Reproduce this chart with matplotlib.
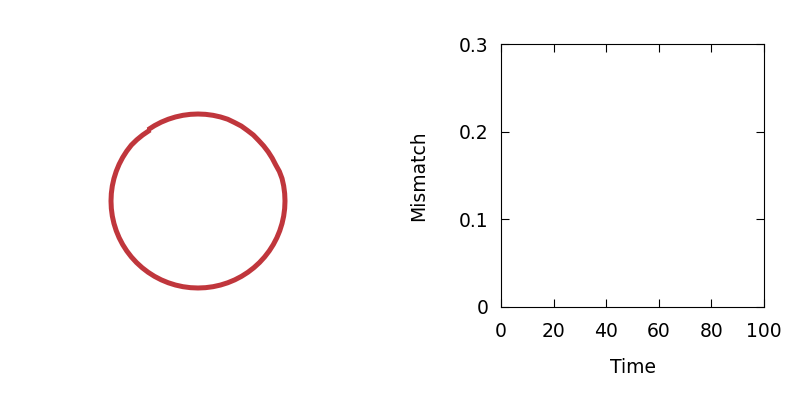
import numpy as np
import matplotlib
matplotlib.use("Agg")
import matplotlib.pyplot as plt

# Ring of oscillators (angle in degrees, radius in relative units).
# The path starts at the small step at the upper left.
ring_angle_deg = [124, 130, 135, 140, 145, 150, 155, 160, 165, 170, 175, 180, 185,
                  190, 195, 200, 205, 210, 215, 220, 225, 230, 235, 240, 245, 250,
                  255, 260, 265, 270, 275, 280, 285, 290, 295, 300, 305, 310, 315,
                  320, 325, 330, 335, 340, 345, 350, 355, 360, 365, 370, 375, 380,
                  382, 385, 390, 395, 400, 405, 410, 415, 420, 425, 430, 435, 440,
                  445, 450, 455, 460, 465, 470, 475, 480, 485]
ring_radius = [0.985, 0.99, 0.995, 1.00, 1.00, 1.00, 1.00, 1.00, 1.00, 1.00, 1.00,
               1.00, 1.00, 1.00, 1.00, 1.00, 1.00, 1.00, 1.00, 1.00, 1.00, 1.00,
               1.00, 1.00, 1.00, 1.00, 1.00, 1.00, 1.00, 1.00, 1.00, 1.00, 1.00,
               1.00, 1.00, 1.00, 1.00, 1.00, 1.00, 1.00, 1.00, 1.00, 1.00, 1.00,
               1.00, 1.00, 1.00, 1.00, 1.00, 1.00, 1.00, 0.995, 0.99, 0.985, 0.985,
               0.985, 0.985, 0.985, 0.99, 0.99, 0.995, 0.995, 1.00, 1.00, 1.00,
               1.00, 1.00, 1.00, 1.00, 1.00, 1.00, 1.00, 1.00, 1.00]

# Mismatch over time (empty at this frame)
time_vals = []
mismatch_vals = []
x_ticks = [0, 20, 40, 60, 80, 100]
y_ticks = [0, 0.1, 0.2, 0.3]
y_tick_labels = ["0", "0.1", "0.2", "0.3"]

plt.rcParams['font.family'] = ['DejaVu Sans']
fig = plt.figure(figsize=(8, 4), dpi=100)

# Left: ring
ax1 = fig.add_axes([0, 0, 0.5, 1])
th = np.deg2rad(ring_angle_deg)
r = np.array(ring_radius)
ax1.plot(r * np.cos(th), r * np.sin(th), color="#c0363c", lw=3.6,
         solid_capstyle="butt", solid_joinstyle="round")
s = 87.0
ax1.set_xlim(-198 / s, (400 - 198) / s)
ax1.set_ylim(-199 / s, 201 / s)
ax1.axis("off")

# Right: mismatch
fs = 13.5
ax2 = fig.add_axes([501 / 800, 93 / 400, 263 / 800, 263 / 400])
ax2.plot(time_vals, mismatch_vals, color="#c0363c")
ax2.set_xlim(0, 100)
ax2.set_ylim(0, 0.3)
ax2.set_xticks(x_ticks)
ax2.set_yticks(y_ticks)
ax2.set_yticklabels(y_tick_labels)
ax2.tick_params(direction="in", length=6, width=0.8, top=True, right=True,
                labelsize=fs, colors="black")
ax2.tick_params(axis="x", pad=11)
ax2.tick_params(axis="y", pad=9)
for sp in ax2.spines.values():
    sp.set_linewidth(0.8)
ax2.set_xlabel("Time", fontsize=fs, labelpad=12)
ax2.set_ylabel("Mismatch", fontsize=fs, labelpad=22)

fig.savefig("out.png", dpi=100)
